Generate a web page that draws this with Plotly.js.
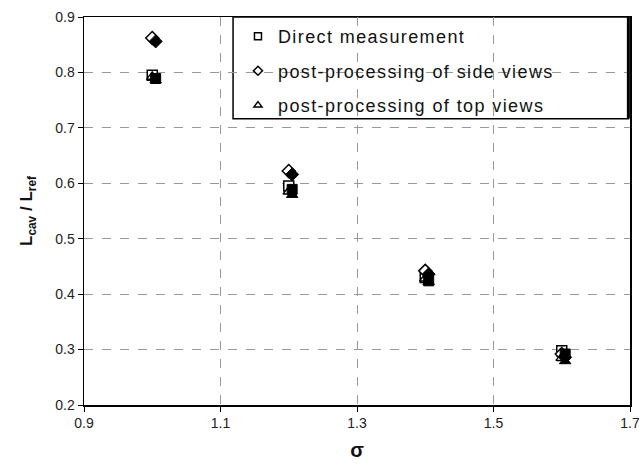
<!DOCTYPE html>
<html>
<head>
<meta charset="utf-8">
<script src="https://cdn.plot.ly/plotly-3.0.1.min.js"></script>
<style>html,body{margin:0;padding:0;background:#fff;} .legendtext{letter-spacing:1.4px;}</style>
</head>
<body>
<div id="chart" style="width:639px;height:466px;"></div>
<script>
var sigma = [1.0, 1.2, 1.4, 1.6];
var direct = [0.795, 0.595, 0.430, 0.298];
var sideViews = [0.862, 0.622, 0.442, 0.292];
var topViews = [0.792, 0.585, 0.428, 0.285];
var seriesNames = ['Direct measurement', 'post-processing of side views', 'post-processing of top views'];
var xTicks = [0.9, 1.1, 1.3, 1.5, 1.7];
var yTicks = [0.2, 0.3, 0.4, 0.5, 0.6, 0.7, 0.8, 0.9];

var xRange = [0.9, 1.7], yRange = [0.2, 0.9];
var dx = 0.005, dy = 0.006;
var sets = [[direct, 'square'], [sideViews, 'diamond'], [topViews, 'triangle-up']];
var traces = [];
// shadow traces on slightly shifted hidden axes
sets.forEach(function (s) {
  traces.push({x: sigma, y: s[0], xaxis: 'x2', yaxis: 'y2', mode: 'markers', showlegend: false, hoverinfo: 'skip',
    marker: {symbol: s[1], size: 10, color: '#000', line: {color: '#000', width: 1}}});
});
sets.forEach(function (s, i) {
  traces.push({x: sigma, y: s[0], mode: 'markers', name: seriesNames[i], showlegend: false,
    marker: {symbol: s[1], size: 10, color: '#fff', line: {color: '#000', width: 1.5}}});
});
// legend entries with small symbols
sets.forEach(function (s, i) {
  traces.push({x: [null], y: [null], mode: 'markers', name: seriesNames[i], legendgroup: 'g' + i,
    marker: {symbol: s[1], size: 7, color: '#fff', line: {color: '#000', width: 1.5}}});
});

var axFont = {family: 'Liberation Sans, Arial, sans-serif', size: 14, color: '#222'};
var layout = {
  width: 639, height: 466,
  margin: {l: 84, r: 9, t: 17, b: 61},
  paper_bgcolor: '#fff', plot_bgcolor: '#fff',
  font: axFont,
  xaxis: {range: xRange, tickvals: xTicks, ticktext: xTicks.map(function (v) { return v.toFixed(1); }),
    showline: true, mirror: true, linecolor: '#000', linewidth: 1.5, ticks: 'outside', ticklen: 5, tickcolor: '#000',
    showgrid: true, gridcolor: '#999', griddash: 'dash', gridwidth: 1, zeroline: false, tickfont: axFont,
    ticklabeloverflow: 'allow',
    title: {text: '<b>σ</b>', font: {family: 'Liberation Sans, Arial, sans-serif', size: 20, color: '#111'}, standoff: 12}},
  yaxis: {range: yRange, tickvals: yTicks, ticktext: yTicks.map(function (v) { return v.toFixed(1); }),
    showline: true, mirror: true, linecolor: '#000', linewidth: 1.5, ticks: 'outside', ticklen: 5, tickcolor: '#000',
    showgrid: true, gridcolor: '#999', griddash: 'dash', gridwidth: 1, zeroline: false, tickfont: axFont,
    title: {text: '<b>L<sub>cav</sub> / L<sub>ref</sub></b>', font: {family: 'Liberation Sans, Arial, sans-serif', size: 17, color: '#111'}, standoff: 18}},
  xaxis2: {range: [xRange[0] - dx, xRange[1] - dx], overlaying: 'x', visible: false},
  yaxis2: {range: [yRange[0] + dy, yRange[1] + dy], overlaying: 'y', visible: false},
  showlegend: true,
  legend: {x: 0.282, y: 0.997, xanchor: 'left', yanchor: 'top', bgcolor: 'rgba(0,0,0,0)', borderwidth: 0,
    tracegroupgap: 8, font: {family: 'Liberation Sans, Arial, sans-serif', size: 18, color: '#111'}},
  shapes: [
    {type: 'rect', xref: 'paper', yref: 'paper', x0: 0.273, x1: 0.997, y0: 0.738, y1: 1.0,
      line: {color: '#000', width: 1.5}, fillcolor: '#fff', layer: 'below'},
    {type: 'line', xref: 'paper', yref: 'paper', x0: 0.997, x1: 0.997, y0: 0.738, y1: 1.0,
      line: {color: '#000', width: 3}}
  ]
};
Plotly.newPlot('chart', traces, layout, {displayModeBar: false, staticPlot: true});
</script>
</body>
</html>
